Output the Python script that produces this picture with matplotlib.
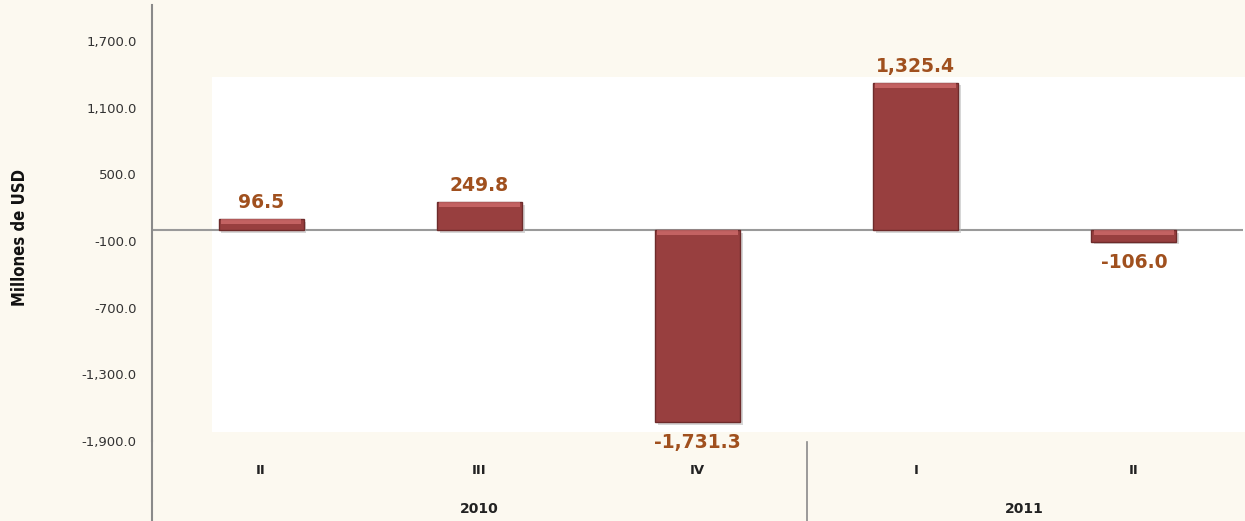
import matplotlib.pyplot as plt
from matplotlib.patches import Rectangle
from matplotlib.lines import Line2D
import matplotlib.patheffects as pe

quarters = ["II", "III", "IV", "I", "II"]
years = ["2010", "2011"]
year_spans = [(0, 2), (3, 4)]
values = [96.5, 249.8, -1731.3, 1325.4, -106.0]
labels = ["96.5", "249.8", "-1,731.3", "1,325.4", "-106.0"]
yticks = [1700, 1100, 500, -100, -700, -1300, -1900]

W, H = 1245, 521
fig = plt.figure(figsize=(W / 100, H / 100), dpi=100, facecolor="#fcf9f0")

left, right, top, bottom = 152, 1243, 5, 441
ax = fig.add_axes([left / W, 1 - bottom / H, (right - left) / W, (bottom - top) / H])
ax.set_facecolor("none")

# white panel behind the plot
ax.add_patch(Rectangle((212 / W, 1 - 432 / H), (W - 212) / W, (432 - 77) / H,
                       transform=fig.transFigure, facecolor="white",
                       edgecolor="none", zorder=0, clip_on=False))

x = list(range(len(values)))
bars = ax.bar(x, values, width=0.39, color="#983f3f", edgecolor="#6e2b2b",
              linewidth=1.0, zorder=3)
for b in bars:
    b.set_path_effects([pe.SimplePatchShadow(offset=(2, -2), shadow_rgbFace="#bbbbbb", alpha=0.6),
                        pe.Normal()])
# bevel highlight along the top edge of each bar
for xi, v in zip(x, values):
    t = max(v, 0)
    ax.bar(xi, -45, bottom=t, width=0.37, color="#e07a7a", alpha=0.6,
           edgecolor="none", zorder=4)

ax.axhline(0, color="#9a9a9a", linewidth=1.5, zorder=2)

for xi, v, t in zip(x, values, labels):
    if v >= 0:
        ax.text(xi, v + 60, t, ha="center", va="bottom", fontsize=13.5,
                fontweight="bold", color="#a0501e", zorder=5)
    else:
        ax.text(xi, v - 100, t, ha="center", va="top", fontsize=13.5,
                fontweight="bold", color="#a0501e", zorder=5)

ax.set_xlim(-0.5, 4.5)
ax.set_ylim(-1900, 1700 + 36 / (400 / 3600))
ax.set_yticks(yticks)
ax.set_yticklabels([f"{t:,.1f}" for t in yticks], fontsize=9.5, color="#333333")
ax.tick_params(axis="y", length=0, pad=11)
ax.set_xticks([])
for s in ["top", "right", "bottom"]:
    ax.spines[s].set_visible(False)
ax.spines["left"].set_color("#8a8a8a")
ax.spines["left"].set_linewidth(1.5)

# two-level category axis
fig.add_artist(Line2D([left / W, left / W], [0, 1 - bottom / H], color="#8a8a8a",
                      linewidth=1.5, transform=fig.transFigure))
slot = (right - left) / len(values)
sep_x = left + 3 * slot
fig.add_artist(Line2D([sep_x / W, sep_x / W], [0, 1 - 442 / H], color="#8a8a8a",
                      linewidth=1.2, transform=fig.transFigure))
for xi, q in zip(x, quarters):
    cx = left + (xi + 0.5) * slot
    fig.text(cx / W, 1 - 470 / H, q, ha="center", va="center", fontsize=9.5,
             fontweight="bold", color="#222222")
for yr, (a, b) in zip(years, year_spans):
    cx = left + ((a + b) / 2 + 0.5) * slot
    fig.text(cx / W, 1 - 509 / H, yr, ha="center", va="center", fontsize=10,
             fontweight="bold", color="#222222")

fig.text(20 / W, 1 - 237 / H, "Millones de USD", rotation=90, ha="center", va="center",
         fontsize=12, fontweight="bold", color="#111111", fontstretch="condensed",
         family=["DejaVu Sans"])

fig.savefig("out.png", dpi=100, facecolor=fig.get_facecolor())
